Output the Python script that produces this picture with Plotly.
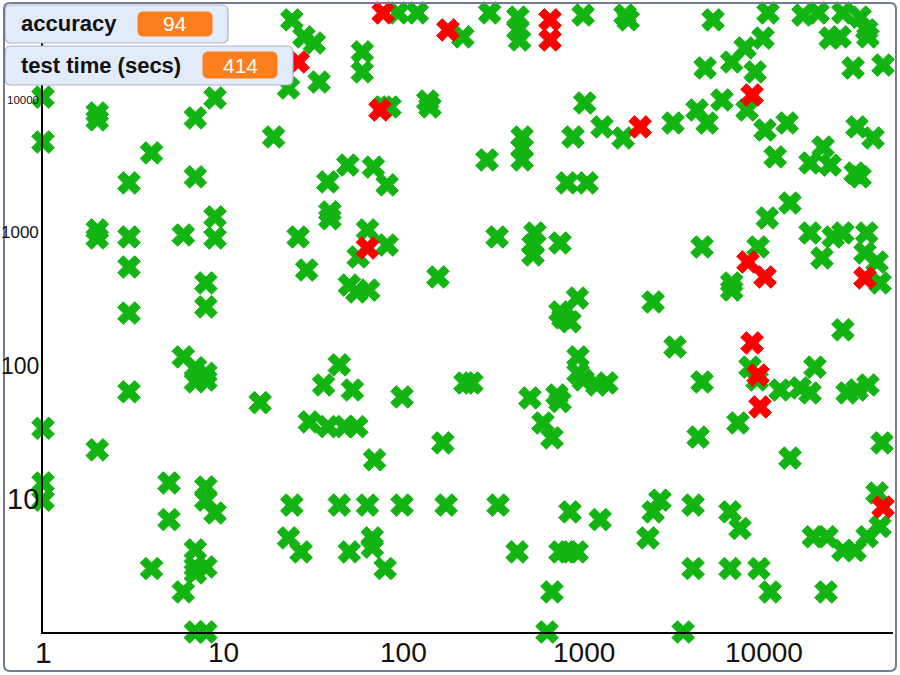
import math
import plotly.graph_objects as go

# ---------------- data ----------------
green_x = [24, 28, 32, 23, 34, 59, 59, 93, 119, 213, 1, 1, 2, 2, 7, 9, 19, 4, 3, 7,
           77, 84, 136, 140, 38, 49, 68, 81, 39, 39, 63, 56, 81, 50, 55, 64, 155, 29, 26, 2,
           2, 3, 3, 6, 9, 9, 8, 8, 3,
           300, 430, 430, 440, 990, 1690, 1760, 5200, 10500, 16400, 19900, 27300, 34000, 23200, 26300, 37000, 37600, 31100, 45600, 9840,
           7830, 6600, 8900, 4700, 1010, 1260, 1650, 3120, 4240, 4820, 5830, 8030, 10100, 13400, 11500, 17950, 21200, 23200, 32700, 40100,
           31900, 34000, 454, 454, 454, 290, 870, 806, 1040, 330, 535, 522, 522, 737, 4520, 13900, 10400, 17950, 24100, 27300,
           37000, 20900, 36200, 9240, 6600, 6600, 43900, 42200, 920, 737, 2420, 766, 837, 3200, 27300,
           239, 502, 709, 737, 927, 927, 990, 1180, 1340, 593, 665, 4520, 4300, 8340, 9120, 12240, 15800, 19100, 17950, 28800,
           32700, 37600, 7150, 13900, 45000, 42200, 334, 837, 1230, 2640, 2420, 2265, 4030, 6460, 7340, 18700, 22300, 27300, 31900, 37150,
           43900, 426, 737, 816, 916, 4030, 6460, 9350, 10800, 22000, 665, 624, 3550,
           6, 7, 8, 7, 8, 3, 16, 36, 44, 52, 98, 219, 30, 38, 47, 55, 69, 165, 1, 2,
           1, 1, 5, 5, 8, 8, 9, 24, 44, 63, 98, 172, 23, 27, 50, 67, 67, 79, 4, 7,
           7, 8, 7, 6, 7, 8]
green_y = [40000, 29800, 26800, 12300, 13650, 23000, 16250, 45100, 45100, 29800, 10500, 4830, 7980, 7080, 7330, 10350, 5270, 4000, 2380, 2640,
           8860, 8860, 9820, 8860, 2420, 3240, 3130, 2300, 1440, 1280, 1054, 660, 812, 406, 360, 372, 467, 527, 933, 1054,
           917, 933, 555, 966, 1320, 917, 421, 278, 250,
           45100, 42000, 33600, 28250, 43500, 43500, 40000, 40000, 45100, 43500, 45100, 45100, 42000, 29200, 29800, 33600, 29800, 17400, 18300, 29200,
           24600, 19300, 16250, 17400, 9490, 6270, 5180, 6710, 8410, 6710, 10000, 8410, 5940, 6710, 3730, 3360, 4430, 3240, 6270, 5180,
           2820, 2640, 5270, 4360, 3540, 3540, 5270, 2380, 2380, 933, 1000, 812, 684, 841, 785, 1680, 1297, 1000, 933, 1000,
           1000, 649, 708, 785, 421, 372, 421, 605, 324, 255, 303, 230, 215, 139, 187,
           74.5, 57.5, 60.5, 54, 117, 88.5, 78.5, 72, 74.5, 37.3, 28.8, 75.8, 29.2, 98, 78.5, 66, 68.4, 98, 62.7, 62.7,
           66, 72, 37.3, 20.3, 26.4, 11.1, 9, 8, 7, 9.8, 8, 5.1, 9, 8, 6, 5.2, 5.2, 4.1, 4.1, 5.2,
           6.2, 4, 4, 4, 4, 3, 3, 3, 2, 2, 2, 1, 1,
           117, 97, 88, 76, 78.5, 64, 53, 72, 102, 66, 58.5, 74.5, 38, 35, 35, 35, 19.7, 26.4, 34, 23.4,
           13.2, 9.8, 13.2, 7, 12.3, 9.8, 7.85, 9, 9, 9, 9, 9, 5.1, 4, 4, 5.1, 4.35, 3, 3, 4.14,
           3.08, 3.08, 2.78, 2, 1, 1]

red_x = [26, 77, 176, 649, 649, 74, 63, 2050, 8560, 8130, 10100, 36200, 8560, 9240, 9480, 45600]
red_y = [19300, 45100, 33600, 40000, 28250, 8410, 771, 6270, 10900, 605, 467, 459, 149, 85.5, 49.2, 8.7]

x_ticks = [1, 10, 100, 1000, 10000]
x_tick_labels = ["1", "10", "100", "1000", "10000"]
x_tick_sizes = [30, 28, 28, 28, 28]
y_ticks = [10, 100, 1000, 10000]
y_tick_labels = ["10", "100", "1000", "10000"]
y_tick_sizes = [29, 23, 17, 11.5]

badge_labels = ["accuracy", "test time (secs)"]
badge_values = ["94", "414"]

# ---------------- layout helpers ----------------
W, H = 900, 675
ML, MR, MT, MB = 43, 7, 5, 43
PW, PH = W - ML - MR, H - MT - MB
AXMAX = 4.714

GREEN = "#12b412"
RED = "#ff0000"
FONT = "Liberation Sans, Arial, sans-serif"


def px_x(px):
    return (px - ML) / PW


def px_y(py):
    return (H - MB - py) / PH


def rrect(x0, y0, x1, y1, r):
    X, Y = px_x, px_y
    return (f"M{X(x0 + r)},{Y(y0)} L{X(x1 - r)},{Y(y0)} Q{X(x1)},{Y(y0)} {X(x1)},{Y(y0 + r)} "
            f"L{X(x1)},{Y(y1 - r)} Q{X(x1)},{Y(y1)} {X(x1 - r)},{Y(y1)} L{X(x0 + r)},{Y(y1)} "
            f"Q{X(x0)},{Y(y1)} {X(x0)},{Y(y1 - r)} L{X(x0)},{Y(y0 + r)} Q{X(x0)},{Y(y0)} {X(x0 + r)},{Y(y0)} Z")


fig = go.Figure()
marker_common = dict(symbol="x", size=20)
fig.add_trace(go.Scatter(x=green_x, y=green_y, mode="markers", cliponaxis=False,
                         marker=dict(color=GREEN, line=dict(color=GREEN, width=1), **marker_common),
                         hoverinfo="x+y", showlegend=False))
fig.add_trace(go.Scatter(x=red_x, y=red_y, mode="markers", cliponaxis=False,
                         marker=dict(color=RED, line=dict(color=RED, width=1), **marker_common),
                         hoverinfo="x+y", showlegend=False))

annotations = []
for v, t, s in zip(x_ticks, x_tick_labels, x_tick_sizes):
    annotations.append(dict(x=math.log10(v), xref="x", y=px_y(652), yref="paper",
                            text=t, showarrow=False, xanchor="center", yanchor="middle",
                            font=dict(size=s, color="#111", family=FONT)))
for v, t, s in zip(y_ticks, y_tick_labels, y_tick_sizes):
    annotations.append(dict(x=px_x(41), xref="paper", y=math.log10(v), yref="y",
                            text=t, showarrow=False, xanchor="right", yanchor="middle",
                            font=dict(size=s, color="#111", family=FONT)))

shapes = []
# badge boxes (pixel geometry)
boxes = [(5, 5, 228, 43, 138, 212, 12, 36), (5, 46, 293, 85, 203, 277, 52, 78)]
for (bx0, by0, bx1, by1, ox0, ox1, oy0, oy1), lab, val in zip(boxes, badge_labels, badge_values):
    shapes.append(dict(type="path", xref="paper", yref="paper", layer="above",
                       path=rrect(bx0, by0, bx1, by1, 6),
                       fillcolor="#e2ebf9", line=dict(color="#aab3c6", width=1.2)))
    shapes.append(dict(type="path", xref="paper", yref="paper", layer="above",
                       path=rrect(ox0, oy0, ox1, oy1, 5),
                       fillcolor="#fd7e1c", line=dict(color="#fd7e1c", width=1)))
    annotations.append(dict(x=px_x(19), y=px_y((by0 + by1) / 2), xref="paper", yref="paper",
                            text=lab, showarrow=False, xanchor="left", yanchor="middle",
                            font=dict(size=22, color="#111", family=FONT, weight=600)))
    annotations.append(dict(x=px_x((ox0 + ox1) / 2), y=px_y((oy0 + oy1) / 2), xref="paper", yref="paper",
                            text=val, showarrow=False, xanchor="center", yanchor="middle",
                            font=dict(size=21, color="white", family=FONT)))

# outer frame
shapes.append(dict(type="path", xref="paper", yref="paper", layer="above",
                   path=rrect(4, 3, 896, 671, 6),
                   fillcolor="rgba(0,0,0,0)", line=dict(color="#737b92", width=2)))

fig.update_layout(
    width=W, height=H,
    margin=dict(l=ML, r=MR, t=MT, b=MB, pad=0),
    paper_bgcolor="white", plot_bgcolor="white",
    xaxis=dict(type="log", range=[0, AXMAX], showgrid=False, zeroline=False,
               showline=True, linecolor="black", linewidth=1.5, showticklabels=False, ticks=""),
    yaxis=dict(type="log", range=[0, AXMAX], showgrid=False, zeroline=False,
               showline=True, linecolor="black", linewidth=1.5, showticklabels=False, ticks=""),
    shapes=shapes,
    annotations=annotations,
    showlegend=False,
)

fig.write_html("out.html", config={"displayModeBar": False},
               post_script="document.body.style.margin='0';document.body.style.overflow='hidden';")
